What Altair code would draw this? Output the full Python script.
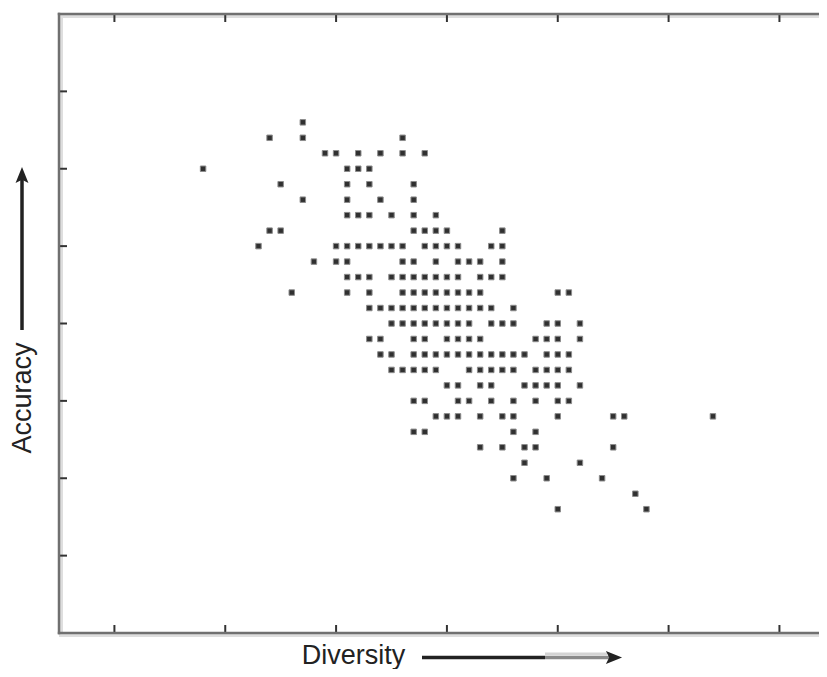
import altair as alt
import pandas as pd

# Accuracy rows (y) and the diversity values (x) of the points in each row
row_acc = [6.6, 6.4, 6.2, 6.0, 5.8, 5.6, 5.4, 5.2, 5.0, 4.8, 4.6, 4.4, 4.2,
           4.0, 3.8, 3.6, 3.4, 3.2, 3.0, 2.8, 2.6, 2.4, 2.2, 2.0, 1.8, 1.6]
row_div = [
    [2.2],
    [1.9, 2.2, 3.1],
    [2.4, 2.5, 2.7, 2.9, 3.1, 3.3],
    [1.3, 2.6, 2.7, 2.8],
    [2.0, 2.6, 2.8, 3.2],
    [2.2, 2.6, 2.9, 3.2],
    [2.6, 2.7, 2.8, 3.0, 3.2, 3.4],
    [1.9, 2.0, 3.2, 3.3, 3.4, 3.5, 4.0],
    [1.8, 2.5, 2.6, 2.7, 2.8, 2.9, 3.0, 3.1, 3.3, 3.4, 3.5, 3.6, 3.9, 4.0],
    [2.3, 2.5, 2.6, 3.1, 3.2, 3.4, 3.6, 3.7, 3.8, 4.0],
    [2.6, 2.7, 2.8, 3.0, 3.1, 3.2, 3.3, 3.4, 3.5, 3.6, 3.8, 3.9, 4.0],
    [2.1, 2.6, 2.8, 3.1, 3.2, 3.3, 3.4, 3.5, 3.6, 3.7, 3.8, 4.5, 4.6],
    [2.8, 2.9, 3.0, 3.1, 3.2, 3.3, 3.4, 3.5, 3.6, 3.7, 3.8, 3.9, 4.1],
    [3.0, 3.1, 3.2, 3.3, 3.4, 3.5, 3.6, 3.7, 3.9, 4.0, 4.1, 4.4, 4.5, 4.7],
    [2.8, 2.9, 3.2, 3.3, 3.5, 3.6, 3.7, 3.8, 4.3, 4.4, 4.5, 4.7],
    [2.9, 3.0, 3.2, 3.3, 3.4, 3.5, 3.6, 3.7, 3.8, 3.9, 4.0, 4.1, 4.2, 4.4, 4.5, 4.6],
    [3.0, 3.1, 3.2, 3.3, 3.4, 3.7, 3.8, 3.9, 4.0, 4.1, 4.3, 4.4, 4.5, 4.6],
    [3.5, 3.6, 3.8, 3.9, 4.2, 4.3, 4.4, 4.5, 4.7],
    [3.2, 3.3, 3.6, 3.7, 3.9, 4.1, 4.3, 4.5, 4.6],
    [3.4, 3.5, 3.6, 3.8, 4.0, 4.1, 4.5, 5.0, 5.1, 5.9],
    [3.2, 3.3, 4.1, 4.3],
    [3.8, 4.0, 4.2, 4.3, 5.0],
    [4.2, 4.7],
    [4.1, 4.4, 4.9],
    [5.2],
    [4.5, 5.3],
]

x_ticks = [0.5, 1.5, 2.5, 3.5, 4.5, 5.5, 6.5]
y_ticks = [1, 2, 3, 4, 5, 6, 7]
x_title = ["Diversity"]
y_title = ["Accuracy"]

xs, ys = [], []
for acc, divs in zip(row_acc, row_div):
    for d in divs:
        xs.append(d)
        ys.append(acc)
df = pd.DataFrame({"div": xs, "acc": ys})

W, H = 760, 619
FRAME = "#707070"
SHADE = "#dedede"
DARK = "#222222"

xscale = alt.Scale(domain=[0, 6.857], nice=False, zero=False)
yscale = alt.Scale(domain=[0, 8], nice=False, zero=False)

points = alt.Chart(df).mark_square(
    size=30, fill="#303030", stroke="#8c8c8c", strokeWidth=1, opacity=1
).encode(
    x=alt.X("div:Q", scale=xscale, axis=None),
    y=alt.Y("acc:Q", scale=yscale, axis=None),
)

xt = pd.DataFrame({"t": x_ticks})
yt = pd.DataFrame({"t": y_ticks})
one = pd.DataFrame({"k": [0]})

bottom_ticks = alt.Chart(xt).mark_rule(color="#333333", strokeWidth=2).encode(
    x=alt.X("t:Q", scale=xscale, axis=None), y=alt.value(H), y2=alt.value(H - 8))
top_ticks = alt.Chart(xt).mark_rule(color="#333333", strokeWidth=2).encode(
    x=alt.X("t:Q", scale=xscale, axis=None), y=alt.value(0), y2=alt.value(8))
left_ticks = alt.Chart(yt).mark_rule(color="#333333", strokeWidth=2).encode(
    y=alt.Y("t:Q", scale=yscale, axis=None), x=alt.value(0), x2=alt.value(8))

# frame (left, bottom, top) with a light inner shade
shade_top = alt.Chart(one).mark_rule(color=SHADE, strokeWidth=3).encode(
    x=alt.value(0), x2=alt.value(W), y=alt.value(2.5))
shade_left = alt.Chart(one).mark_rule(color=SHADE, strokeWidth=3).encode(
    x=alt.value(2.5), y=alt.value(0), y2=alt.value(H))
shade_bottom = alt.Chart(one).mark_rule(color=SHADE, strokeWidth=3).encode(
    x=alt.value(0), x2=alt.value(W), y=alt.value(H + 2.5))
border_top = alt.Chart(one).mark_rule(color=FRAME, strokeWidth=2.5).encode(
    x=alt.value(-1.2), x2=alt.value(W), y=alt.value(0))
border_left = alt.Chart(one).mark_rule(color=FRAME, strokeWidth=2.5).encode(
    x=alt.value(0), y=alt.value(-1.2), y2=alt.value(H + 1.2))
border_bottom = alt.Chart(one).mark_rule(color=FRAME, strokeWidth=2.5).encode(
    x=alt.value(-1.2), x2=alt.value(W), y=alt.value(H))

# Diversity arrow
AY = 643.5
xa_dark = alt.Chart(one).mark_rule(color=DARK, strokeWidth=3.5).encode(
    x=alt.value(363), x2=alt.value(486), y=alt.value(AY))
xa_gray = alt.Chart(one).mark_rule(color="#8a8a8a", strokeWidth=3.5).encode(
    x=alt.value(486), x2=alt.value(550), y=alt.value(AY))
xa_light = alt.Chart(one).mark_rule(color="#d4d4d4", strokeWidth=3).encode(
    x=alt.value(486), x2=alt.value(548), y=alt.value(AY - 3.5))
xa_head = alt.Chart(one).mark_point(
    shape="M1,0 L-1,0.8 L-0.6,0 L-1,-0.8 Z", filled=True, size=260,
    color=DARK, opacity=1).encode(x=alt.value(555), y=alt.value(AY))

# Accuracy arrow
ya_line = alt.Chart(one).mark_rule(color=DARK, strokeWidth=3.5).encode(
    x=alt.value(-37), y=alt.value(316), y2=alt.value(162))
ya_head = alt.Chart(one).mark_point(
    shape="M0,-1 L0.8,1 L0,0.6 L-0.8,1 Z", filled=True, size=260,
    color=DARK, opacity=1).encode(x=alt.value(-37), y=alt.value(161))

xt_text = alt.Chart(pd.DataFrame({"t": x_title})).mark_text(
    font="Liberation Sans", fontSize=27, color=DARK, align="center",
    baseline="alphabetic").encode(text="t:N", x=alt.value(294.5), y=alt.value(650))
yt_text = alt.Chart(pd.DataFrame({"t": y_title})).mark_text(
    font="Liberation Sans", fontSize=27, color=DARK, align="center",
    baseline="alphabetic", angle=270).encode(text="t:N", x=alt.value(-28), y=alt.value(384))

chart = alt.layer(
    shade_top, shade_left, shade_bottom, bottom_ticks, top_ticks, left_ticks,
    border_top, border_left, border_bottom, points,
    xa_dark, xa_gray, xa_light, xa_head, ya_line, ya_head, xt_text, yt_text,
).properties(
    width=W, height=H,
    padding={"left": 51, "top": 6, "right": 0, "bottom": 36},
    autosize=alt.AutoSizeParams(type="none"),
).configure_view(stroke=None)

chart.save("out.html", embed_options={"renderer": "svg", "actions": False})
